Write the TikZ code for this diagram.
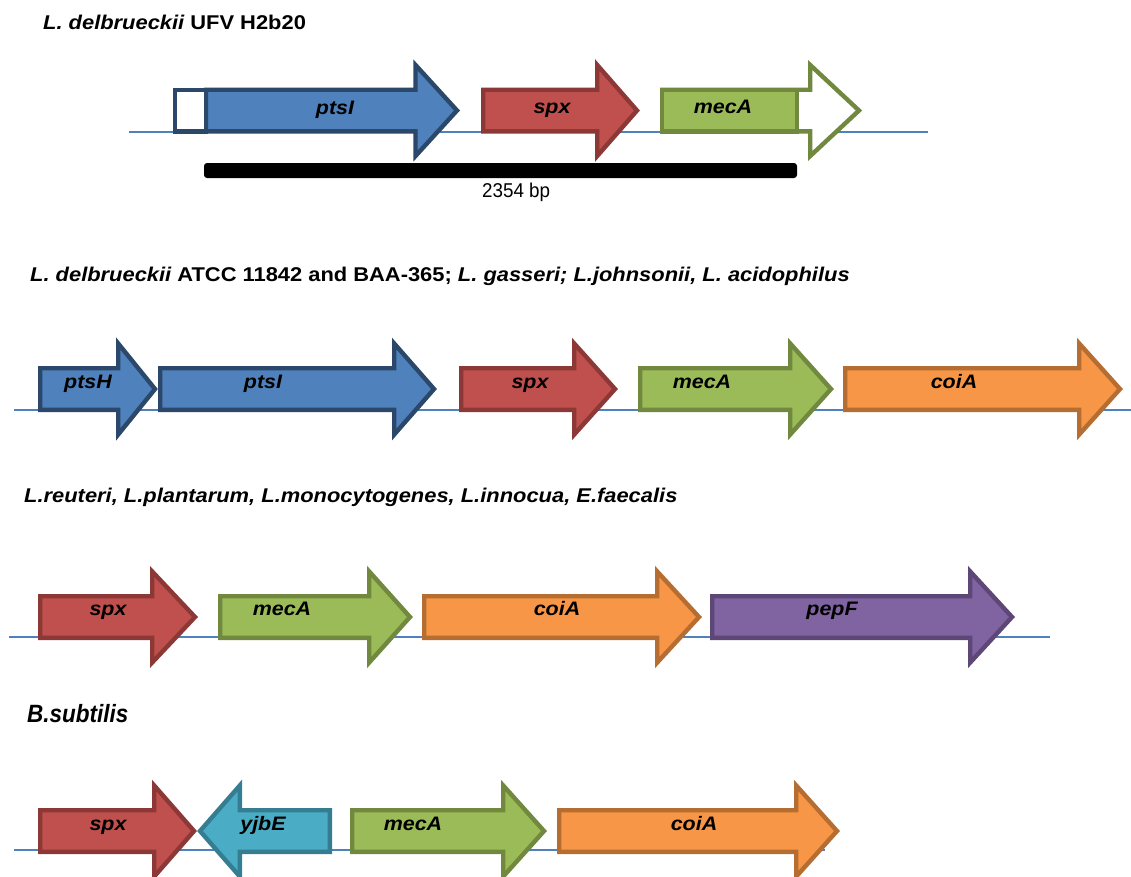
\documentclass[tikz,border=0pt]{standalone}
\usepackage{fontspec}
\setmainfont{Liberation Sans}[FakeStretch=1.1]
\newfontfamily\narrowfont{Liberation Sans}[FakeStretch=0.94]
\newfontfamily\condfont{Liberation Sans}[FakeStretch=0.9]

% gene colours: fill / outline
\definecolor{ptsfill}{HTML}{4F81BD}\definecolor{ptsline}{HTML}{2B4769}
\definecolor{spxfill}{HTML}{C0504D}\definecolor{spxline}{HTML}{8C3836}
\definecolor{mecfill}{HTML}{9BBB59}\definecolor{mecline}{HTML}{71893F}
\definecolor{coifill}{HTML}{F79646}\definecolor{coiline}{HTML}{B66D31}
\definecolor{pepfill}{HTML}{8064A2}\definecolor{pepline}{HTML}{5C4776}
\definecolor{yjbfill}{HTML}{4BACC6}\definecolor{yjbline}{HTML}{357D91}
\definecolor{dnaline}{HTML}{4F81BD}

\tikzset{
  gene/.style 2 args={fill=#1, draw=#2, line width=4.4pt, miter limit=10, line join=miter},
  genelabel/.style={font=\fontsize{19.5}{22}\selectfont\bfseries\itshape, anchor=base, inner sep=0pt},
  rowtitle/.style={font=\fontsize{19.9}{22}\selectfont\bfseries, anchor=base west, inner sep=0pt},
  backbone/.style={draw=dnaline, line width=1.6pt},
}

% forward gene arrow: left end, head base, tip, centre line, style
\newcommand\fwdgene[5]{%
  \draw[#5] (#1,#4-20.8) -- (#2,#4-20.8) -- (#2,#4-45.5) -- (#3,#4)
    -- (#2,#4+45.5) -- (#2,#4+20.8) -- (#1,#4+20.8) -- cycle;}
% reverse gene arrow: right end, head base, tip, centre line, style
\newcommand\revgene[5]{%
  \draw[#5] (#1,#4-20.8) -- (#2,#4-20.8) -- (#2,#4-45.5) -- (#3,#4)
    -- (#2,#4+45.5) -- (#2,#4+20.8) -- (#1,#4+20.8) -- cycle;}

\begin{document}
\begin{tikzpicture}[x=1pt, y=-1pt]
\useasboundingbox (0,0) rectangle (1131,876);
\clip (0,0) rectangle (1131,876);
\fill[white] (0,0) rectangle (1131,876);

% ---------------- L. delbrueckii UFV H2b20
\node[rowtitle] (t1) at (43,29) {\itshape L. delbrueckii\upshape{} UFV H2b20};
\draw[backbone] (129,132) coordinate (b1s) -- (928,132) coordinate (b1e);
\fwdgene{206}{415.5}{457}{110.5}{gene={ptsfill}{ptsline}}
\draw[gene={white}{ptsline}] (175.2,89.7) rectangle (206,131.3);
\fwdgene{483.2}{597.2}{637}{110.5}{gene={spxfill}{spxline}}
\fwdgene{662.2}{810.2}{859}{110.5}{gene={white}{mecline}}
\draw[gene={mecfill}{mecline}] (662.2,89.7) rectangle (797,131.3);
\node[genelabel] (r1ptsI) at (335,114) {ptsI};
\node[genelabel] (r1spx) at (552,113) {spx};
\node[genelabel] (r1mecA) at (723,113) {mecA};
\fill[black, rounded corners=3pt] (204,163) rectangle (797,178);
\node[font=\narrowfont\fontsize{20}{22}\selectfont, anchor=base west, inner sep=0pt]
  (len) at (482,197) {2354 bp};

% ---------------- ATCC 11842 / BAA-365 and relatives
\node[rowtitle] (t2) at (30,281)
  {\itshape L. delbrueckii\upshape{} ATCC 11842 and BAA-365; \itshape L. gasseri; L.johnsonii, L. acidophilus};
\draw[backbone] (14,410) coordinate (b2s) -- (1131,410) coordinate (b2e);
\fwdgene{40.2}{118.2}{155}{389}{gene={ptsfill}{ptsline}}
\fwdgene{160.2}{394.2}{434}{389}{gene={ptsfill}{ptsline}}
\fwdgene{461.2}{574.2}{615}{389}{gene={spxfill}{spxline}}
\fwdgene{640.2}{790.2}{831}{389}{gene={mecfill}{mecline}}
\fwdgene{845.2}{1079.2}{1120}{389}{gene={coifill}{coiline}}
\node[genelabel] (r2ptsH) at (88,388) {ptsH};
\node[genelabel] (r2ptsI) at (263,388) {ptsI};
\node[genelabel] (r2spx) at (530,388) {spx};
\node[genelabel] (r2mecA) at (702,388) {mecA};
\node[genelabel] (r2coiA) at (954,388) {coiA};

% ---------------- Listeria / L. reuteri group
\node[rowtitle] (t3) at (24,502)
  {\itshape L.reuteri, L.plantarum, L.monocytogenes, L.innocua, E.faecalis};
\draw[backbone] (9,637) coordinate (b3s) -- (1050,637) coordinate (b3e);
\fwdgene{40.2}{152.2}{195}{617}{gene={spxfill}{spxline}}
\fwdgene{220.2}{369.2}{410}{617}{gene={mecfill}{mecline}}
\fwdgene{424.2}{657.2}{699}{617}{gene={coifill}{coiline}}
\fwdgene{712.2}{970.2}{1012}{617}{gene={pepfill}{pepline}}
\node[genelabel] (r3spx) at (108,615) {spx};
\node[genelabel] (r3mecA) at (282,615) {mecA};
\node[genelabel] (r3coiA) at (557,615) {coiA};
\node[genelabel] (r3pepF) at (832,615) {pepF};

% ---------------- B. subtilis
\node[font=\condfont\bfseries\itshape\fontsize{25}{28}\selectfont, anchor=base west, inner sep=0pt]
  (t4) at (27,722) {B.subtilis};
\draw[backbone] (14,850) coordinate (b4s) -- (825,850) coordinate (b4e);
\fwdgene{40.2}{154.2}{194}{831}{gene={spxfill}{spxline}}
\revgene{329.8}{239.8}{200}{831}{gene={yjbfill}{yjbline}}
\fwdgene{352.2}{503.2}{544}{831}{gene={mecfill}{mecline}}
\fwdgene{559.2}{796.2}{837}{831}{gene={coifill}{coiline}}
\node[genelabel] (r4spx) at (108,830) {spx};
\node[genelabel] (r4yjbE) at (263,830) {yjbE};
\node[genelabel] (r4mecA) at (413,830) {mecA};
\node[genelabel] (r4coiA) at (694,830) {coiA};
\end{tikzpicture}
\end{document}
